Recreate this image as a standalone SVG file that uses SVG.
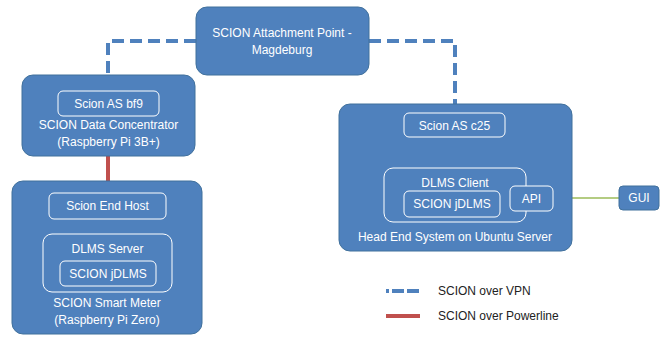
<svg xmlns="http://www.w3.org/2000/svg" width="672" height="339" viewBox="0 0 672 339">
<style>
.node{fill:#4F81BD;stroke:#41719C;stroke-width:1}
.inner{fill:none;stroke:#FFFFFF;stroke-width:1}
.t{font-family:"Liberation Sans",Arial,sans-serif;font-size:12px;fill:#FFFFFF;text-anchor:middle;dominant-baseline:central}
.lt{font-family:"Liberation Sans",Arial,sans-serif;font-size:12px;fill:#222222;dominant-baseline:central}
.vpn{fill:none;stroke:#4F81BD;stroke-width:4;stroke-dasharray:12,6}
.pl{fill:none;stroke:#C0504D;stroke-width:4}
.g{fill:none;stroke:#9BBB59;stroke-width:1.3}
</style>
<rect width="672" height="339" fill="#FFFFFF"/>
<g id="connectors">
<polyline class="vpn" points="196,41 108,41 108,76"/>
<polyline class="vpn" points="369,41 455,41 455,104"/>
<line class="pl" x1="108" y1="156" x2="108" y2="193"/>
<line class="g" x1="108" y1="219" x2="108" y2="234"/>
<line class="g" x1="455" y1="137" x2="455" y2="168"/>
<line class="g" x1="553" y1="198" x2="619" y2="198"/>
</g>
<g id="attachment-point">
<rect class="node" x="196" y="7" width="173" height="68" rx="11"/>
<text class="t" x="282" y="33">SCION Attachment Point -</text>
<text class="t" x="282" y="50">Magdeburg</text>
</g>
<g id="data-concentrator">
<rect class="node" x="22" y="75" width="173" height="81" rx="11"/>
<rect class="inner" x="58" y="91" width="101" height="25" rx="5"/>
<text class="t" x="108.5" y="104">Scion AS bf9</text>
<text class="t" x="108.5" y="125">SCION Data Concentrator</text>
<text class="t" x="108.5" y="142">(Raspberry Pi 3B+)</text>
</g>
<g id="smart-meter">
<rect class="node" x="12" y="181" width="190" height="153" rx="11"/>
<rect class="inner" x="49" y="193" width="117" height="26" rx="5"/>
<text class="t" x="107.5" y="206">Scion End Host</text>
<rect class="inner" x="43" y="234" width="129" height="58" rx="9"/>
<text class="t" x="107.5" y="249">DLMS Server</text>
<rect class="inner" x="60" y="261" width="96" height="25" rx="5"/>
<text class="t" x="108" y="274">SCION jDLMS</text>
<text class="t" x="107" y="303">SCION Smart Meter</text>
<text class="t" x="107" y="320">(Raspberry Pi Zero)</text>
</g>
<g id="head-end">
<rect class="node" x="339" y="104" width="233" height="147" rx="11"/>
<rect class="inner" x="404" y="113" width="101" height="24" rx="5"/>
<text class="t" x="454.5" y="125.5">Scion AS c25</text>
<rect class="inner" x="384" y="168" width="142" height="54" rx="9"/>
<text class="t" x="455" y="182.5">DLMS Client</text>
<rect class="inner" x="404" y="191" width="96" height="26" rx="5"/>
<text class="t" x="452" y="204">SCION jDLMS</text>
<rect class="node" x="510" y="186" width="43" height="25" rx="5" style="stroke:#FFFFFF"/>
<text class="t" x="531.5" y="198.5">API</text>
<text class="t" x="455" y="237">Head End System on Ubuntu Server</text>
</g>
<g id="gui">
<rect class="node" x="619" y="186" width="40" height="24" rx="4"/>
<text class="t" x="639" y="198">GUI</text>
</g>
<g id="legend">
<line x1="386" y1="291" x2="420" y2="291" stroke="#4F81BD" stroke-width="4" stroke-dasharray="3,3,12,3,12,3"/>
<text class="lt" x="438" y="291">SCION over VPN</text>
<line class="pl" x1="386" y1="316" x2="420" y2="316"/>
<text class="lt" x="438" y="316">SCION over Powerline</text>
</g>
</svg>
